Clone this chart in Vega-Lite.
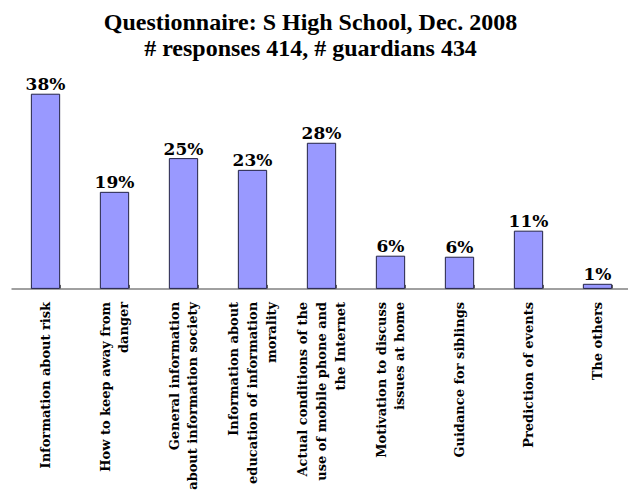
{
  "$schema": "https://vega.github.io/schema/vega-lite/v6.json",
  "autosize": "none",
  "padding": {"left": 11, "top": 84, "right": 0, "bottom": 205},
  "width": 621,
  "height": 204.4,
  "background": "white",
  "title": {
    "text": ["Questionnaire: S High School, Dec. 2008", "# responses 414, # guardians 434"],
    "font": "Liberation Serif",
    "fontSize": 24,
    "fontWeight": "bold",
    "lineHeight": 26,
    "color": "black",
    "anchor": "middle",
    "frame": "group",
    "offset": 15,
    "dx": -11
  },
  "config": {"view": {"stroke": null}},
  "data": {
    "values": [
      {"item": "Information about risk", "share": 0.380},
      {"item": "How to keep away from|danger", "share": 0.188},
      {"item": "General information|about information society", "share": 0.254},
      {"item": "Information about|education of information|morality", "share": 0.231},
      {"item": "Actual conditions of the|use of mobile phone and|the Internet", "share": 0.284},
      {"item": "Motivation to discuss|issues at home", "share": 0.063},
      {"item": "Guidance for siblings", "share": 0.061},
      {"item": "Prediction of events", "share": 0.112},
      {"item": "The others", "share": 0.008}
    ]
  },
  "encoding": {
    "x": {
      "field": "item",
      "type": "nominal",
      "sort": null,
      "scale": {"paddingInner": 0.59, "paddingOuter": 0.295},
      "axis": {
        "title": null,
        "labelExpr": "split(datum.label, '|')",
        "labelAngle": -90,
        "labelAlign": "right",
        "labelBaseline": "middle",
        "labelFont": "DejaVu Serif",
        "labelFontWeight": "bold",
        "labelFontSize": 13,
        "labelLineHeight": 18.7,
        "labelColor": "black",
        "labelLimit": 400,
        "labelOverlap": false,
        "labelPadding": 17,
        "labelOffset": {
          "condition": [
            {"test": "length(split(datum.value, '|')) == 3", "value": -18.7},
            {"test": "length(split(datum.value, '|')) == 2", "value": -9.4}
          ],
          "value": 0
        },
        "tickBand": "extent",
        "ticks": true,
        "tickSize": -4,
        "tickColor": "#606060",
        "tickWidth": 1,
        "domainColor": "#808080",
        "domainWidth": 1.5
      }
    },
    "y": {
      "field": "share",
      "type": "quantitative",
      "scale": {"domain": [0, 0.4], "nice": false},
      "axis": null
    }
  },
  "layer": [
    {
      "mark": {"type": "bar", "fill": "#9999FF", "stroke": "#222244", "strokeWidth": 1}
    },
    {
      "mark": {"type": "text", "font": "DejaVu Serif", "fontWeight": "bold", "fontSize": 17, "baseline": "alphabetic", "dy": -4, "color": "black"},
      "encoding": {"text": {"field": "share", "format": ".0%"}}
    }
  ]
}
